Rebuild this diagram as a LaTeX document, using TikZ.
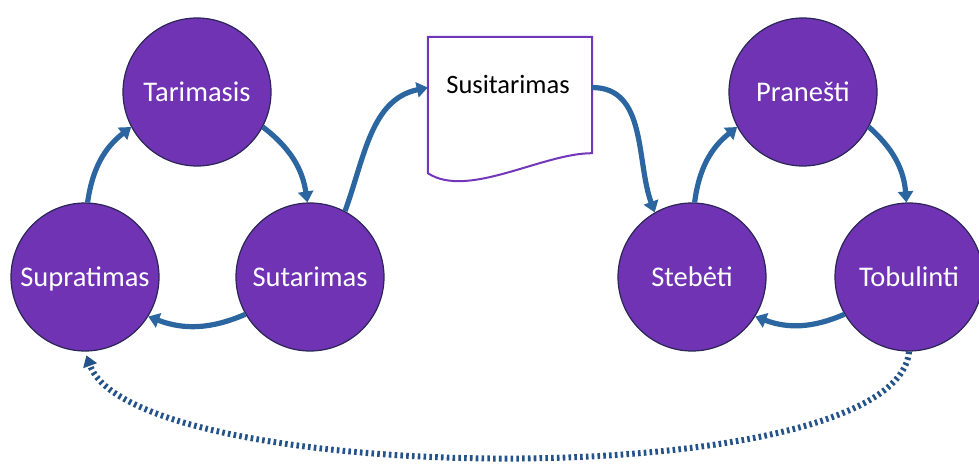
\documentclass[tikz,border=0pt]{standalone}
\usepackage{fontspec}
\setmainfont{Carlito}
\usetikzlibrary{arrows.meta}
\definecolor{stagefill}{HTML}{7033B3}
\definecolor{stageedge}{HTML}{2A2656}
\definecolor{flowblue}{HTML}{2B66A0}
\definecolor{loopblue}{HTML}{24538A}
\definecolor{docedge}{HTML}{7236B8}
\begin{document}
\begin{tikzpicture}[x=1pt,y=1pt,
  stage/.style={circle, fill=stagefill, draw=stageedge, line width=1.2pt,
    minimum size=148pt, inner sep=0pt, text=white, text depth=0pt,
    font=\fontsize{28.5}{32}\selectfont},
  flow/.style={draw=flowblue, line width=5.2pt,
    -{Triangle[length=11pt,width=15pt]}},
  loopback/.style={draw=loopblue, line width=6pt,
    dash pattern=on 2.6pt off 3.2pt,
    -{Triangle[length=11pt,width=14pt]}, shorten >=4pt},
  docline/.style={draw=docedge, line width=2pt, line join=miter}
]
\useasboundingbox (0,0) rectangle (979,468);

% left cycle
\node[stage] (sup) at (85,191) {Supratimas};
\node[stage] (tar) at (197,376) {Tarimasis};
\node[stage] (sut) at (310,191) {Sutarimas};

% right cycle
\node[stage] (ste) at (692,191) {Stebėti};
\node[stage] (pra) at (803,376) {Pranešti};
\node[stage] (tob) at (909,191) {Tobulinti};

% agreement document
\node[minimum width=164pt, minimum height=136pt, inner sep=0pt] (doc) at (510,363) {};
\draw[docline] (doc.south west) -- (doc.north west) -- (doc.north east)
  -- ([yshift=20pt]doc.south east)
  .. controls +(-50,0) and +(40,-26) .. (doc.south west) -- cycle;
\node[text=black, font=\fontsize{26.5}{30}\selectfont] (doctext) at (508,384) {Susitarimas};

% cycle arrows
\draw[flow] (sup.88) to[bend left=22] (tar.208);
\draw[flow] (tar.332) to[bend left=22] (sut.92);
\draw[flow] (sut.210) to[bend left=22] (sup.328);

\draw[flow] (ste.88) to[bend left=22] (pra.208);
\draw[flow] (pra.332) to[bend left=22] (tob.92);
\draw[flow] (tob.210) to[bend left=22] (ste.328);

% links through the document
\draw[flow] (sut.62) to[out=70,in=192] (doc.168);
\draw[flow] (doc.12) to[out=0,in=110] (ste.120);

% feedback loop
\draw[loopback] (tob.south) .. controls +(-95:145) and +(-70:145) .. (sup.south);
\end{tikzpicture}
\end{document}
